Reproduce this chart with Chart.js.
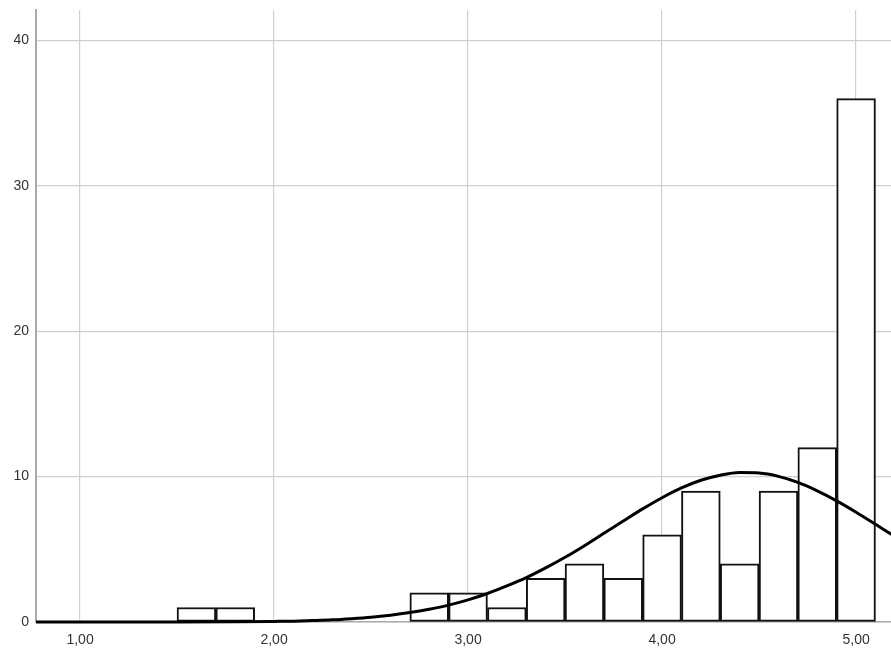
<!DOCTYPE html>
<html>
<head>
<meta charset="utf-8">
<script src="https://cdn.jsdelivr.net/npm/chart.js@4"></script>
<style>
  html, body { margin: 0; padding: 0; background: #fff; }
  #wrap { width: 891px; height: 652px; position: relative; }
</style>
</head>
<body>
<div id="wrap"><canvas id="histChart"></canvas></div>
<script>
// histogram bins (centre of each 0,20 wide bin) and their counts
const binCenters = [1.6, 1.8, 2.8, 3.0, 3.2, 3.4, 3.6, 3.8, 4.0, 4.2, 4.4, 4.6, 4.8, 5.0];
const binCounts = [1, 1, 2, 2, 1, 3, 4, 3, 6, 9, 4, 9, 12, 36];

// normal curve
const curveX = [0.7, 1.0, 1.5, 1.8, 2.0, 2.1, 2.2, 2.3, 2.4, 2.5, 2.6, 2.7, 2.8, 2.9, 3.0, 3.1, 3.2, 3.3, 3.4, 3.5,
  3.6, 3.7, 3.8, 3.9, 4.0, 4.1, 4.2, 4.3, 4.4, 4.5, 4.6, 4.7, 4.8, 4.9, 5.0, 5.1, 5.2, 5.3];
const curveY = [0, 0, 0, 0.01, 0.04, 0.06, 0.10, 0.15, 0.23, 0.33, 0.47, 0.65, 0.88, 1.16, 1.52, 1.96, 2.48, 3.05, 3.72, 4.45,
  5.25, 6.10, 6.95, 7.78, 8.55, 9.22, 9.75, 10.10, 10.28, 10.25, 10.02, 9.60, 9.02, 8.33, 7.55, 6.72, 5.88, 5.05];

// axis ticks
const xTicks = [1, 2, 3, 4, 5];
const yTicks = [0, 10, 20, 30, 40];

const barData = binCenters.map((x, i) => ({ x: x, y: binCounts[i] }));
const curveData = curveX.map((x, i) => ({ x: x, y: curveY[i] }));

const gridColor = '#d0d0d0';
const axisColor = '#aaaaaa';
const tickFont = { family: 'Arial, "Liberation Sans", sans-serif', size: 14 };

new Chart(document.getElementById('histChart'), {
  type: 'bar',
  data: {
    datasets: [
      {
        type: 'line',
        data: curveData,
        borderColor: '#000',
        borderWidth: 3,
        pointRadius: 0,
        fill: false,
        cubicInterpolationMode: 'monotone',
        clip: { left: 0, right: 0, top: 5, bottom: 5 },
        order: 0
      },
      {
        type: 'bar',
        data: barData,
        backgroundColor: '#fff',
        borderColor: '#111',
        borderWidth: 2,
        borderSkipped: false,
        barPercentage: 1,
        categoryPercentage: 1,
        order: 1
      }
    ]
  },
  options: {
    responsive: true,
    maintainAspectRatio: false,
    animation: false,
    layout: { padding: { top: 10, left: 0, right: 0, bottom: 0 } },
    plugins: {
      legend: { display: false },
      tooltip: { enabled: false }
    },
    scales: {
      x: {
        type: 'linear',
        min: 0.773,
        max: 5.18,
        offset: false,
        afterBuildTicks: (axis) => { axis.ticks = xTicks.map(v => ({ value: v })); },
        afterFit: (axis) => { axis.height = 30; axis.paddingLeft = 0; axis.paddingRight = 0; },
        grid: { color: gridColor, lineWidth: 1.2, drawTicks: false, offset: false },
        border: { color: axisColor, width: 1.5 },
        ticks: {
          color: '#333',
          font: tickFont,
          padding: 10,
          maxRotation: 0,
          callback: (v) => v.toFixed(2).replace('.', ',')
        }
      },
      y: {
        type: 'linear',
        min: 0,
        max: 42.1,
        afterBuildTicks: (axis) => { axis.ticks = yTicks.map(v => ({ value: v })); },
        afterFit: (axis) => { axis.width = 36; axis.paddingTop = 0; axis.paddingBottom = 0; },
        grid: { color: gridColor, lineWidth: 1.2, drawTicks: false },
        border: { color: axisColor, width: 2 },
        ticks: {
          color: '#333',
          font: tickFont,
          padding: 7
        }
      }
    }
  }
});
</script>
</body>
</html>
